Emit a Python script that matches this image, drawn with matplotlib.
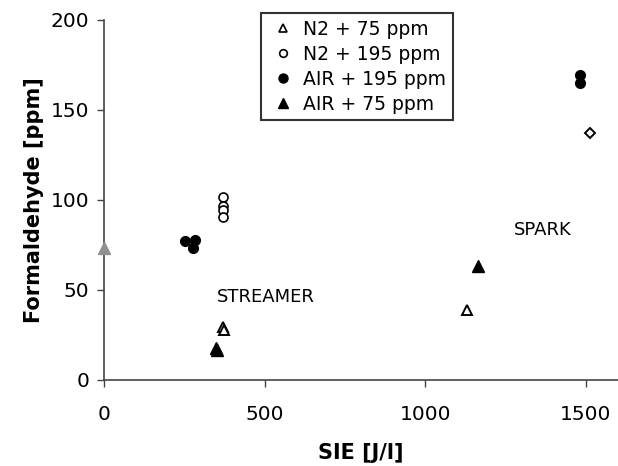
import matplotlib
matplotlib.use("Agg")
import matplotlib.pyplot as plt
from matplotlib.lines import Line2D

# data
n2_75_x = [368, 371, 1128]
n2_75_y = [29.5, 27.5, 38.5]

n2_195_x = [370, 370, 370, 370]
n2_195_y = [101.5, 96.5, 94.5, 90.5]

air_195_x = [251, 282, 277, 1481, 1481]
air_195_y = [76.8, 77.8, 73.1, 169, 165]

air_75_x = [349, 352, 1165]
air_75_y = [17.6, 16.3, 63.3]

other_x = [1512]   # diamond, not in legend
other_y = [137]

ref_x = [0]        # grey triangle on the axis
ref_y = [73]

legend_labels = ["N2 + 75 ppm", "N2 + 195 ppm", "AIR + 195 ppm", "AIR + 75 ppm"]

plt.rcParams["font.family"] = "DejaVu Sans"

fig = plt.figure(figsize=(6.18, 4.66), dpi=100)
ax = fig.add_axes([0.169, 0.185, 0.831, 0.773])

ax.plot(n2_75_x, n2_75_y, "^", ms=7, mfc="white", mec="black", mew=1.4, ls="none")
ax.plot(n2_195_x, n2_195_y, "o", ms=6.5, mfc="white", mec="black", mew=1.2, ls="none")
ax.plot(air_195_x, air_195_y, "o", ms=7, color="black", ls="none")
ax.plot(air_75_x, air_75_y, "^", ms=8, color="black", ls="none")
ax.plot(other_x, other_y, "D", ms=5.5, mfc="white", mec="black", mew=1.4, ls="none")
ax.plot(ref_x, ref_y, "^", ms=9, color="#909090", ls="none", clip_on=False, zorder=5)

ax.text(350, 46, "STREAMER", fontsize=13, va="center", ha="left")
ax.text(1276, 83, "SPARK", fontsize=13, va="center", ha="left")

ax.set_xlim(0, 1600)
ax.set_ylim(0, 200)
ax.set_xticks([0, 500, 1000, 1500])
ax.set_yticks([0, 50, 100, 150, 200])
ax.tick_params(labelsize=14.5, length=5, width=1, color="#444444", pad=13)
ax.tick_params(axis="y", pad=6)
for s in ["top", "right"]:
    ax.spines[s].set_visible(False)
for s in ["left", "bottom"]:
    ax.spines[s].set_color("#444444")
    ax.spines[s].set_linewidth(1.2)

ax.set_xlabel("SIE [J/l]", fontsize=15, fontweight="bold", labelpad=14)
ax.set_ylabel("Formaldehyde [ppm]", fontsize=15, fontweight="bold", labelpad=5)

handles = [
    Line2D([], [], marker="^", ms=6, mfc="white", mec="black", mew=1.2, ls="none"),
    Line2D([], [], marker="o", ms=5.5, mfc="white", mec="black", mew=1.2, ls="none"),
    Line2D([], [], marker="o", ms=6.5, color="black", ls="none"),
    Line2D([], [], marker="^", ms=7, color="black", ls="none"),
]
leg = fig.legend(handles, legend_labels, loc="upper left",
                 bbox_to_anchor=(261 / 618, 1 - 13 / 466), fontsize=13.5,
                 frameon=True, fancybox=False, edgecolor="black",
                 handlelength=1.6, handletextpad=0.3, labelspacing=0.32,
                 borderpad=0.35, borderaxespad=0)
leg.get_frame().set_linewidth(1.5)

fig.savefig("out.png", dpi=100)
